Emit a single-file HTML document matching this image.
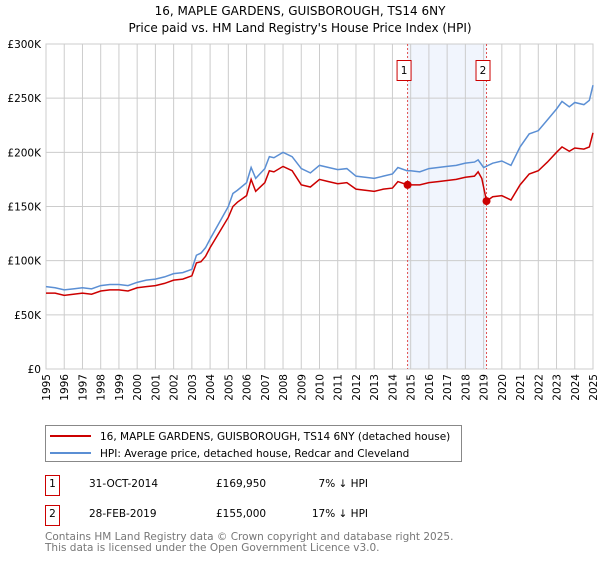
<!DOCTYPE html>
<html><head><meta charset="utf-8"><style>
body{margin:0;background:#fff;font-family:"Liberation Sans","DejaVu Sans",sans-serif}
svg text{font-family:"DejaVu Sans","Liberation Sans",sans-serif}
</style></head><body>
<svg id="c" width="600" height="560" viewBox="0 0 600 560" xmlns="http://www.w3.org/2000/svg">
<text x="300" y="15" font-size="12" text-anchor="middle">16, MAPLE GARDENS, GUISBOROUGH, TS14 6NY</text>
<text x="300" y="32" font-size="12" text-anchor="middle">Price paid vs. HM Land Registry's House Price Index (HPI)</text>
<g id="plot"></g>
<g>
<rect x="45.5" y="425.5" width="416" height="36" fill="#fff" stroke="#888"/>
<line x1="50" y1="436" x2="91" y2="436" stroke="#cc0000" stroke-width="2"/>
<text x="100" y="440" font-size="10.5">16, MAPLE GARDENS, GUISBOROUGH, TS14 6NY (detached house)</text>
<line x1="50" y1="453" x2="91" y2="453" stroke="#5b8fd4" stroke-width="2"/>
<text x="100" y="457" font-size="10.5">HPI: Average price, detached house, Redcar and Cleveland</text>
</g>
<g font-size="10.5">
<rect x="45.5" y="475.5" width="14" height="20" fill="none" stroke="#cc0000"/>
<text x="52.5" y="487" text-anchor="middle">1</text>
<text x="89" y="487">31-OCT-2014</text><text x="216" y="487">£169,950</text><text x="368" y="487" text-anchor="end">7% ↓ HPI</text>
<rect x="45.5" y="505.5" width="14" height="20" fill="none" stroke="#cc0000"/>
<text x="52.5" y="517" text-anchor="middle">2</text>
<text x="89" y="517">28-FEB-2019</text><text x="216" y="517">£155,000</text><text x="368" y="517" text-anchor="end">17% ↓ HPI</text>
</g>
<text x="45" y="540" font-size="10.5" fill="#777">Contains HM Land Registry data © Crown copyright and database right 2025.</text>
<text x="45" y="551" font-size="10.5" fill="#777">This data is licensed under the Open Government Licence v3.0.</text>
</svg>
<script>
const hpiYears=[1995,1995.5,1996,1996.5,1997,1997.5,1998,1998.5,1999,1999.5,2000,2000.5,2001,2001.5,2002,2002.5,2003,2003.25,2003.5,2003.75,2004,2004.5,2005,2005.25,2005.5,2006,2006.25,2006.5,2007,2007.25,2007.5,2008,2008.5,2009,2009.5,2010,2010.5,2011,2011.5,2012,2012.5,2013,2013.5,2014,2014.3,2014.8,2015,2015.5,2016,2016.5,2017,2017.5,2018,2018.5,2018.7,2019,2019.5,2020,2020.5,2021,2021.5,2022,2022.5,2023,2023.3,2023.7,2024,2024.5,2024.8,2025];
const hpiValues=[76,75,73,74,75,74,77,78,78,77,80,82,83,85,88,89,92,105,107,112,120,135,150,162,165,172,186,176,185,196,195,200,196,185,181,188,186,184,185,178,177,176,178,180,186,183,183,182,185,186,187,188,190,191,193,186,190,192,188,205,217,220,230,240,247,242,246,244,248,262];
const redYears=[1995,1995.5,1996,1996.5,1997,1997.5,1998,1998.5,1999,1999.5,2000,2000.5,2001,2001.5,2002,2002.5,2003,2003.25,2003.5,2003.75,2004,2004.5,2005,2005.25,2005.5,2006,2006.25,2006.5,2007,2007.25,2007.5,2008,2008.5,2009,2009.5,2010,2010.5,2011,2011.5,2012,2012.5,2013,2013.5,2014,2014.3,2014.83,2015,2015.5,2016,2016.5,2017,2017.5,2018,2018.5,2018.7,2018.9,2019.16,2019.5,2020,2020.5,2021,2021.5,2022,2022.5,2023,2023.3,2023.7,2024,2024.5,2024.8,2025];
const redValues=[70,70,68,69,70,69,72,73,73,72,75,76,77,79,82,83,86,98,99,104,112,126,140,150,154,160,175,164,172,183,182,187,183,170,168,175,173,171,172,166,165,164,166,167,173,170,170,170,172,173,174,175,177,178,182,176,155,159,160,156,170,180,183,191,200,205,201,204,203,205,218];
const saleYears=[2014.83,2019.16];
const saleValues=[169.95,155];
const saleLabels=["1","2"];
const yTicks=[0,50,100,150,200,250,300];
const yTickLabels=["£0","£50K","£100K","£150K","£200K","£250K","£300K"];
const xTicks=[1995,1996,1997,1998,1999,2000,2001,2002,2003,2004,2005,2006,2007,2008,2009,2010,2011,2012,2013,2014,2015,2016,2017,2018,2019,2020,2021,2022,2023,2024,2025];

const L=46,R=593,T=44,B=369,NS="http://www.w3.org/2000/svg";
const x=v=>L+(v-1995)/30*(R-L), y=v=>B-v/300*(B-T);
const g=document.getElementById('plot');
function mk(t,a){const e=document.createElementNS(NS,t);for(const k in a)e.setAttribute(k,a[k]);g.appendChild(e);return e;}
let band=mk('rect',{x:x(saleYears[0]),y:T,width:x(saleYears[1])-x(saleYears[0]),height:B-T,fill:'#eef3fc',opacity:0.8});


xTicks.forEach(t=>{const l=mk('line',{x1:x(t),x2:x(t),y1:T,y2:B,stroke:'#ccc'});


const tx=mk('text',{x:0,y:0,'font-size':10.5,'text-anchor':'end',transform:`translate(${x(t)+4},${B+5}) rotate(-90)`});tx.textContent=t;

});
yTicks.forEach((t,i)=>{const l=mk('line',{x1:L,x2:R,y1:y(t),y2:y(t),stroke:'#ccc'});


const tx=mk('text',{x:L-5,y:y(t)+4,'font-size':10.5,'text-anchor':'end'});tx.textContent=yTickLabels[i];

});
mk('rect',{x:L,y:T,width:R-L,height:B-T,fill:'none',stroke:'#ccc'});
saleYears.forEach((s,i)=>{const l=mk('line',{x1:x(s),x2:x(s),y1:T,y2:B,stroke:'#e05050','stroke-dasharray':'2,2'});


const r=mk('rect',{x:x(s)-10.5,y:60.5,width:14,height:20,fill:'#fff',stroke:'#cc0000'});


const tx=mk('text',{x:x(s)-3.5,y:74,'font-size':10.5,'text-anchor':'middle'});tx.textContent=saleLabels[i];

});
function line(xs,vs,c,n){const p=mk('polyline',{points:xs.map((v,i)=>x(v)+','+y(vs[i])).join(' '),fill:'none',stroke:c,'stroke-width':1.5});

}
line(hpiYears,hpiValues,'#5b8fd4','hpi-line');
line(redYears,redValues,'#cc0000','price-paid-line');
saleYears.forEach((s,i)=>{const c=mk('circle',{cx:x(s),cy:y(saleValues[i]),r:4,fill:'#cc0000'});

});
</script>
</body></html>
